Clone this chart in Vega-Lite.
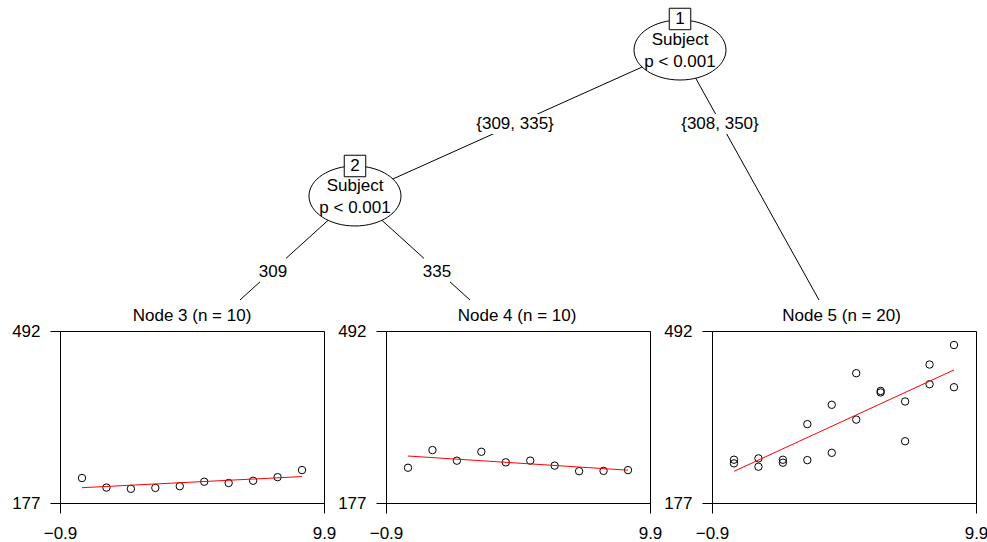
{
  "$schema": "https://vega.github.io/schema/vega-lite/v6.json",
  "padding": {"left": 11, "top": 0, "right": 0, "bottom": 0},
  "background": "white",
  "spacing": 0,
  "bounds": "flush",
  "config": {
    "font": "Liberation Sans",
    "view": {"stroke": "black", "strokeWidth": 1},
    "axis": {"grid": false, "title": null, "labelFontSize": 17, "labelColor": "black", "labelFont": "Liberation Sans", "tickColor": "black", "domainColor": "black", "tickSize": 10, "tickWidth": 1, "domainWidth": 1, "labelFlush": false, "labelOverlap": false},
    "axisX": {"labelPadding": 12},
    "axisY": {"labelPadding": 10}
  },
  "datasets": {
    "sleep": [
      {"Subject": "309", "node": 3, "Days": 0, "Reaction": 222.7339},
      {"Subject": "309", "node": 3, "Days": 1, "Reaction": 205.2658},
      {"Subject": "309", "node": 3, "Days": 2, "Reaction": 202.9778},
      {"Subject": "309", "node": 3, "Days": 3, "Reaction": 204.707},
      {"Subject": "309", "node": 3, "Days": 4, "Reaction": 207.7161},
      {"Subject": "309", "node": 3, "Days": 5, "Reaction": 215.9618},
      {"Subject": "309", "node": 3, "Days": 6, "Reaction": 213.6303},
      {"Subject": "309", "node": 3, "Days": 7, "Reaction": 217.7272},
      {"Subject": "309", "node": 3, "Days": 8, "Reaction": 224.2957},
      {"Subject": "309", "node": 3, "Days": 9, "Reaction": 237.3142},
      {"Subject": "335", "node": 4, "Days": 0, "Reaction": 241.6083},
      {"Subject": "335", "node": 4, "Days": 1, "Reaction": 273.9472},
      {"Subject": "335", "node": 4, "Days": 2, "Reaction": 254.4907},
      {"Subject": "335", "node": 4, "Days": 3, "Reaction": 270.8021},
      {"Subject": "335", "node": 4, "Days": 4, "Reaction": 251.4519},
      {"Subject": "335", "node": 4, "Days": 5, "Reaction": 254.6362},
      {"Subject": "335", "node": 4, "Days": 6, "Reaction": 245.4523},
      {"Subject": "335", "node": 4, "Days": 7, "Reaction": 235.311},
      {"Subject": "335", "node": 4, "Days": 8, "Reaction": 235.7541},
      {"Subject": "335", "node": 4, "Days": 9, "Reaction": 237.2466},
      {"Subject": "308", "node": 5, "Days": 0, "Reaction": 249.56},
      {"Subject": "308", "node": 5, "Days": 1, "Reaction": 258.7047},
      {"Subject": "308", "node": 5, "Days": 2, "Reaction": 250.8006},
      {"Subject": "308", "node": 5, "Days": 3, "Reaction": 321.4398},
      {"Subject": "308", "node": 5, "Days": 4, "Reaction": 356.8519},
      {"Subject": "308", "node": 5, "Days": 5, "Reaction": 414.6901},
      {"Subject": "308", "node": 5, "Days": 6, "Reaction": 382.2038},
      {"Subject": "308", "node": 5, "Days": 7, "Reaction": 290.1486},
      {"Subject": "308", "node": 5, "Days": 8, "Reaction": 430.5853},
      {"Subject": "308", "node": 5, "Days": 9, "Reaction": 466.3535},
      {"Subject": "350", "node": 5, "Days": 0, "Reaction": 256.2968},
      {"Subject": "350", "node": 5, "Days": 1, "Reaction": 243.4543},
      {"Subject": "350", "node": 5, "Days": 2, "Reaction": 256.2046},
      {"Subject": "350", "node": 5, "Days": 3, "Reaction": 255.5271},
      {"Subject": "350", "node": 5, "Days": 4, "Reaction": 268.9165},
      {"Subject": "350", "node": 5, "Days": 5, "Reaction": 329.7247},
      {"Subject": "350", "node": 5, "Days": 6, "Reaction": 379.4445},
      {"Subject": "350", "node": 5, "Days": 7, "Reaction": 362.9184},
      {"Subject": "350", "node": 5, "Days": 8, "Reaction": 394.4872},
      {"Subject": "350", "node": 5, "Days": 9, "Reaction": 389.0527}
    ],
    "edges": [
      {"x": 0.6776, "y": 0.1511, "x2": 0.3224, "y2": 0.5921},
      {"x": 0.6776, "y": 0.1511, "x2": 0.8295, "y2": 0.9063},
      {"x": 0.3224, "y": 0.5921, "x2": 0.1967, "y2": 0.9063},
      {"x": 0.3224, "y": 0.5921, "x2": 0.4481, "y2": 0.9063}
    ],
    "masks": [
      {"x": 0.4557, "x2": 0.541, "y": 0.3444, "y2": 0.4048},
      {"x": 0.6787, "x2": 0.7639, "y": 0.3444, "y2": 0.4048},
      {"x": 0.2186, "x2": 0.247, "y": 0.7764, "y2": 0.861},
      {"x": 0.3978, "x2": 0.4262, "y": 0.7764, "y2": 0.861}
    ],
    "nodes": [
      {"id": "1", "label": "Subject\np < 0.001", "x": 0.6776, "y": 0.1511, "by": 0.0574, "ty": 0.1208},
      {"id": "2", "label": "Subject\np < 0.001", "x": 0.3224, "y": 0.5921, "by": 0.5015, "ty": 0.5619}
    ],
    "labels": [
      {"text": "{309, 335}", "x": 0.4973, "y": 0.3746},
      {"text": "{308, 350}", "x": 0.7213, "y": 0.3746},
      {"text": "309", "x": 0.2328, "y": 0.8218},
      {"text": "335", "x": 0.412, "y": 0.8218},
      {"text": "Node 3 (n = 10)", "x": 0.1443, "y": 0.9547},
      {"text": "Node 4 (n = 10)", "x": 0.4995, "y": 0.9547},
      {"text": "Node 5 (n = 20)", "x": 0.8541, "y": 0.9547}
    ]
  },
  "vconcat": [
    {
      "width": 915,
      "height": 331,
      "view": {"stroke": null},
      "layer": [
        {
          "data": {"name": "edges"},
          "mark": {"type": "rule", "color": "black", "strokeWidth": 1},
          "encoding": {
            "x": {"field": "x", "type": "quantitative", "scale": {"domain": [0, 1], "nice": false, "zero": false}, "axis": null},
            "y": {"field": "y", "type": "quantitative", "scale": {"domain": [0, 1], "nice": false, "zero": false, "reverse": true}, "axis": null},
            "x2": {"field": "x2"},
            "y2": {"field": "y2"}
          }
        },
        {
          "data": {"name": "masks"},
          "mark": {"type": "rect", "fill": "white", "stroke": null},
          "encoding": {
            "x": {"field": "x", "type": "quantitative"},
            "y": {"field": "y", "type": "quantitative"},
            "x2": {"field": "x2"},
            "y2": {"field": "y2"}
          }
        },
        {
          "data": {"name": "nodes"},
          "mark": {"type": "point", "shape": "M-1 0A1 0.652 0 1 1 1 0A1 0.652 0 1 1 -1 0Z", "size": 8464, "filled": true, "fill": "white", "stroke": "black", "strokeWidth": 1, "opacity": 1, "fillOpacity": 1},
          "encoding": {
            "x": {"field": "x", "type": "quantitative"},
            "y": {"field": "y", "type": "quantitative"}
          }
        },
        {
          "data": {"name": "nodes"},
          "mark": {"type": "point", "shape": "square", "size": 462, "filled": true, "fill": "white", "stroke": "black", "strokeWidth": 1, "opacity": 1, "fillOpacity": 1},
          "encoding": {
            "x": {"field": "x", "type": "quantitative"},
            "y": {"field": "by", "type": "quantitative"}
          }
        },
        {
          "data": {"name": "nodes"},
          "mark": {"type": "text", "fontSize": 17, "color": "black", "baseline": "middle", "align": "center"},
          "encoding": {
            "x": {"field": "x", "type": "quantitative"},
            "y": {"field": "by", "type": "quantitative"},
            "text": {"field": "id"}
          }
        },
        {
          "data": {"name": "nodes"},
          "mark": {"type": "text", "fontSize": 17, "color": "black", "baseline": "middle", "align": "center", "lineBreak": "\n", "lineHeight": 22},
          "encoding": {
            "x": {"field": "x", "type": "quantitative"},
            "y": {"field": "ty", "type": "quantitative"},
            "text": {"field": "label"}
          }
        },
        {
          "data": {"name": "labels"},
          "mark": {"type": "text", "fontSize": 17, "color": "black", "baseline": "middle", "align": "center"},
          "encoding": {
            "x": {"field": "x", "type": "quantitative"},
            "y": {"field": "y", "type": "quantitative"},
            "text": {"field": "text"}
          }
        }
      ]
    },
    {
      "hconcat": [
        {
          "width": 264,
          "height": 172,
          "data": {"name": "sleep"},
          "transform": [{"filter": "datum.node == 3"}],
          "layer": [
            {
              "mark": {"type": "point", "shape": "circle", "filled": false, "color": "black", "size": 55, "strokeWidth": 1, "opacity": 1},
              "encoding": {
                "x": {"field": "Days", "type": "quantitative", "scale": {"domain": [-0.9, 9.9], "nice": false, "zero": false}, "axis": {"values": [-0.9, 9.9], "format": ".1f"}},
                "y": {"field": "Reaction", "type": "quantitative", "scale": {"domain": [177, 492], "nice": false, "zero": false}, "axis": {"values": [177, 492], "format": "d"}}
              }
            },
            {
              "transform": [{"regression": "Reaction", "on": "Days"}],
              "mark": {"type": "line", "color": "red", "strokeWidth": 1},
              "encoding": {
                "x": {"field": "Days", "type": "quantitative"},
                "y": {"field": "Reaction", "type": "quantitative"}
              }
            }
          ]
        },
        {
          "width": 264,
          "height": 172,
          "data": {"name": "sleep"},
          "transform": [{"filter": "datum.node == 4"}],
          "layer": [
            {
              "mark": {"type": "point", "shape": "circle", "filled": false, "color": "black", "size": 55, "strokeWidth": 1, "opacity": 1},
              "encoding": {
                "x": {"field": "Days", "type": "quantitative", "scale": {"domain": [-0.9, 9.9], "nice": false, "zero": false}, "axis": {"values": [-0.9, 9.9], "format": ".1f"}},
                "y": {"field": "Reaction", "type": "quantitative", "scale": {"domain": [177, 492], "nice": false, "zero": false}, "axis": {"values": [177, 492], "format": "d"}}
              }
            },
            {
              "transform": [{"regression": "Reaction", "on": "Days"}],
              "mark": {"type": "line", "color": "red", "strokeWidth": 1},
              "encoding": {
                "x": {"field": "Days", "type": "quantitative"},
                "y": {"field": "Reaction", "type": "quantitative"}
              }
            }
          ]
        },
        {
          "width": 264,
          "height": 172,
          "data": {"name": "sleep"},
          "transform": [{"filter": "datum.node == 5"}],
          "layer": [
            {
              "mark": {"type": "point", "shape": "circle", "filled": false, "color": "black", "size": 55, "strokeWidth": 1, "opacity": 1},
              "encoding": {
                "x": {"field": "Days", "type": "quantitative", "scale": {"domain": [-0.9, 9.9], "nice": false, "zero": false}, "axis": {"values": [-0.9, 9.9], "format": ".1f"}},
                "y": {"field": "Reaction", "type": "quantitative", "scale": {"domain": [177, 492], "nice": false, "zero": false}, "axis": {"values": [177, 492], "format": "d"}}
              }
            },
            {
              "transform": [{"regression": "Reaction", "on": "Days"}],
              "mark": {"type": "line", "color": "red", "strokeWidth": 1},
              "encoding": {
                "x": {"field": "Days", "type": "quantitative"},
                "y": {"field": "Reaction", "type": "quantitative"}
              }
            }
          ]
        }
      ],
      "spacing": 62,
      "bounds": "flush"
    }
  ]
}
